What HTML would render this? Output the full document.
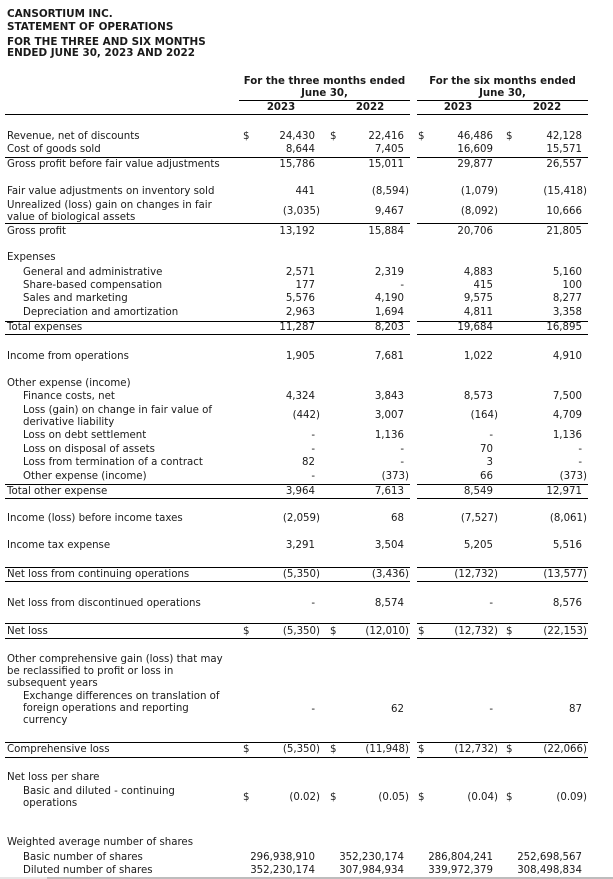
<!DOCTYPE html>
<html><head><meta charset="utf-8">
<style>
html,body{margin:0;padding:0;background:#fff;}
body{width:613px;height:879px;position:relative;overflow:hidden;font-family:"DejaVu Sans","Liberation Sans",sans-serif;font-size:10.2px;color:#1a1a1a;}
.t{position:absolute;white-space:nowrap;line-height:12px;height:12px;}
.b{font-weight:bold;}
.title{font-size:10.4px;font-weight:bold;left:7px;}
.ln{position:absolute;height:1px;background:#000;}
.c{text-align:center;}
</style></head>
<body>
<div class="t title" style="top:8px">CANSORTIUM INC.</div>
<div class="t title" style="top:21px">STATEMENT OF OPERATIONS</div>
<div class="t title" style="top:36px">FOR THE THREE AND SIX MONTHS</div>
<div class="t title" style="top:47px">ENDED JUNE 30, 2023 AND 2022</div>

<div class="t b c" style="top:76px;left:229px;width:191px">For the three months ended</div>
<div class="t b c" style="top:88px;left:239px;width:171px">June 30,</div>
<div class="t b c" style="top:76px;left:407px;width:191px">For the six months ended</div>
<div class="t b c" style="top:88px;left:417px;width:171px">June 30,</div>
<div class="t b c" style="top:102px;left:256px;width:50px">2023</div>
<div class="t b c" style="top:102px;left:345px;width:50px">2022</div>
<div class="t b c" style="top:102px;left:433px;width:50px">2023</div>
<div class="t b c" style="top:102px;left:522px;width:50px">2022</div>

<div class="ln" style="top:100px;left:239px;width:171px"></div>
<div class="ln" style="top:100px;left:417px;width:171px"></div>

<div style="position:absolute;left:0;top:877px;width:613px;height:2px;background:#e6e6e6"></div>
<div style="position:absolute;left:47px;top:877px;width:566px;height:2px;background:#bdbdbd"></div>

<script>
const rowLabels = [
 ["Revenue, net of discounts"],["Cost of goods sold"],["Gross profit before fair value adjustments"],
 ["Fair value adjustments on inventory sold"],["Unrealized (loss) gain on changes in fair","value of biological assets"],["Gross profit"],
 ["Expenses"],["General and administrative"],["Share-based compensation"],["Sales and marketing"],["Depreciation and amortization"],["Total expenses"],
 ["Income from operations"],["Other expense (income)"],["Finance costs, net"],["Loss (gain) on change in fair value of","derivative liability"],
 ["Loss on debt settlement"],["Loss on disposal of assets"],["Loss from termination of a contract"],["Other expense (income)"],["Total other expense"],
 ["Income (loss) before income taxes"],["Income tax expense"],["Net loss from continuing operations"],["Net loss from discontinued operations"],["Net loss"],
 ["Other comprehensive gain (loss) that may","be reclassified to profit or loss in","subsequent years"],
 ["Exchange differences on translation of","foreign operations and reporting","currency"],["Comprehensive loss"],
 ["Net loss per share"],["Basic and diluted - continuing","operations"],
 ["Weighted average number of shares"],["Basic number of shares"],["Diluted number of shares"]
];
const rowIndent = [0,0,0,0,0,0,0,1,1,1,1,0,0,0,1,1,1,1,1,1,0,0,0,0,0,0,0,1,0,0,1,0,1,1];
const rowY = [137,150,165,192,206,232,258,273,286,299,313,328,357,384,397,411,436,450,463,477,492,519,546,575,604,632,660,697,750,778,792,843,858,871];
const valueY = [137,150,165,192,212,232,258,273,286,299,313,328,357,384,397,416,436,450,463,477,492,519,546,575,604,632,660,710,750,778,798,843,858,871];
const showDollar = [1,0,0,0,0,0,0,0,0,0,0,0,0,0,0,0,0,0,0,0,0,0,0,0,0,1,0,0,1,0,1,0,0,0];
const q2023 = ["24,430","8,644","15,786","441","(3,035)","13,192","","2,571","177","5,576","2,963","11,287","1,905","","4,324","(442)","-","-","82","-","3,964","(2,059)","3,291","(5,350)","-","(5,350)","","-","(5,350)","","(0.02)","","296,938,910","352,230,174"];
const q2022 = ["22,416","7,405","15,011","(8,594)","9,467","15,884","","2,319","-","4,190","1,694","8,203","7,681","","3,843","3,007","1,136","-","-","(373)","7,613","68","3,504","(3,436)","8,574","(12,010)","","62","(11,948)","","(0.05)","","352,230,174","307,984,934"];
const h2023 = ["46,486","16,609","29,877","(1,079)","(8,092)","20,706","","4,883","415","9,575","4,811","19,684","1,022","","8,573","(164)","-","70","3","66","8,549","(7,527)","5,205","(12,732)","-","(12,732)","","-","(12,732)","","(0.04)","","286,804,241","339,972,379"];
const h2022 = ["42,128","15,571","26,557","(15,418)","10,666","21,805","","5,160","100","8,277","3,358","16,895","4,910","","7,500","4,709","1,136","-","-","(373)","12,971","(8,061)","5,516","(13,577)","8,576","(22,153)","","87","(22,066)","","(0.09)","","252,698,567","308,498,834"];
const ruleY = [114,157,223,321,334,484,498,567,581,623,638,742,757];

const colRight = [315,404,493,582];
const colDollar = [243,330,418,506];
const cols = [q2023,q2022,h2023,h2022];
const colNames = ['q2-2023','q2-2022','ytd-2023','ytd-2022'];

function slug(s){return s.toLowerCase().replace(/[^a-z0-9]+/g,'-').replace(/^-|-$/g,'');}

rowLabels.forEach((lines,i)=>{
  const base = slug(lines[0]).slice(0,40);
  lines.forEach((txt,k)=>{
    const el=document.createElement('div');
    el.className='t';
    el.style.left=(rowIndent[i]?23:7)+'px';
    el.style.top=(rowY[i]+k*12-6)+'px';
    el.textContent=txt;
    
    
    document.body.appendChild(el);
  });
  cols.forEach((arr,c)=>{
    if(showDollar[i]){
      const d=document.createElement('div');
      d.className='t';
      d.style.left=colDollar[c]+'px';
      d.style.top=(valueY[i]-6)+'px';
      d.textContent='$';
      
      
      document.body.appendChild(d);
    }
    const v=arr[i];
    if(!v) return;
    const el=document.createElement('div');
    el.className='t';
    const paren=v.endsWith(')');
    el.style.right=(613-colRight[c]-(paren?5:0))+'px';
    el.style.top=(valueY[i]-6)+'px';
    el.textContent=v;
    
    
    document.body.appendChild(el);
  });
});

ruleY.forEach(y=>{
  [[5,405],[417,171]].forEach(seg=>{
    const l=document.createElement('div');
    l.className='ln';
    l.style.top=y+'px';
    l.style.left=seg[0]+'px';
    l.style.width=seg[1]+'px';
    
    
    document.body.appendChild(l);
  });
});
</script>
</body></html>
